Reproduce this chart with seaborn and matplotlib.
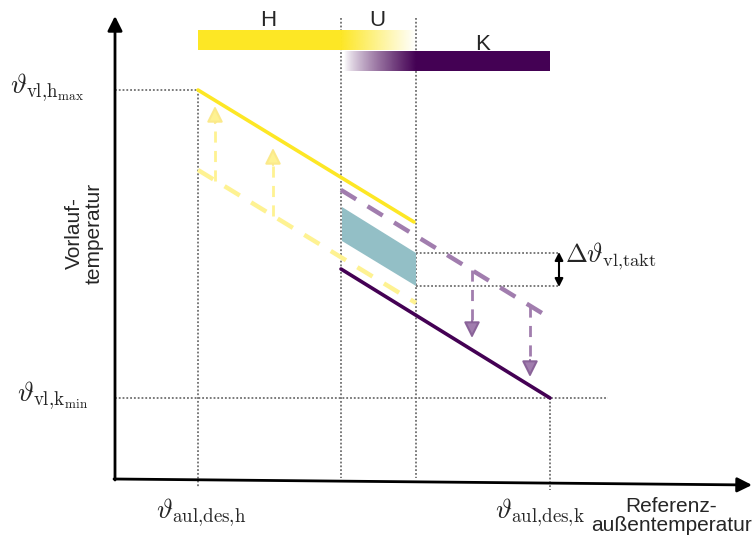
import numpy as np
import matplotlib
matplotlib.use("Agg")
import matplotlib.pyplot as plt
from matplotlib.colors import to_rgb
import seaborn as sns

# schematic in picture coordinates (x to the right, y downwards)
heat_x = [198, 414]
heat_y = [90, 222]
heat_base_x = [198, 416]
heat_base_y = [170, 303]
cool_x = [341, 550]
cool_y = [269, 398]
cool_base_x = [341, 550]
cool_base_y = [190, 318]

band_x = [342, 416, 416, 342]
band_y = [207, 253, 286, 241]

# shift arrows: (x, start y, tip y)
up_arrows = [(215, 181, 106), (273, 216, 148)]
down_arrows = [(472, 270, 338), (530, 306, 377)]

tick_y_labels = [r"$\vartheta_{\mathrm{vl{,}h_{max}}}$", r"$\vartheta_{\mathrm{vl{,}k_{min}}}$"]
tick_y_pos = [90, 398]
tick_y_left = [10, 17]
tick_x_labels = [r"$\vartheta_{\mathrm{aul{,}des{,}h}}$", r"$\vartheta_{\mathrm{aul{,}des{,}k}}$"]
tick_x_pos = [201, 540]

mode_labels = ["H", "U", "K"]

YEL = "#fde725"
PUR = "#440154"
YEL_L = "#fef292"
PUR_L = "#a17dae"
TEAL = "#93bfc6"
DOT = "#6f6f6f"

sns.set_style("white")
plt.rcParams["font.family"] = ["Liberation Sans", "DejaVu Sans"]
plt.rcParams["mathtext.fontset"] = "cm"

fig = plt.figure(figsize=(7.52, 5.38), dpi=100)
ax = fig.add_axes([0, 0, 1, 1])

# dotted guides
dot = dict(color=DOT, ls=(0, (1, 1.1)), lw=1.3, zorder=1)
ax.plot([198, 198], [90, 488], **dot)
ax.plot([341, 341], [18, 478], **dot)
ax.plot([416, 416], [18, 478], **dot)
ax.plot([550, 550], [398, 490], **dot)
ax.plot([115, 198], [90, 90], **dot)
ax.plot([115, 608], [398, 398], **dot)
ax.plot([416, 558], [253, 253], **dot)
ax.plot([416, 558], [286, 286], **dot)

# axes with arrows
arrow = dict(arrowstyle="-|>", color="black", lw=2, mutation_scale=22,
             shrinkA=0, shrinkB=0)
ax.annotate("", xy=(115, 16), xytext=(115, 480), arrowprops=arrow)
ax.annotate("", xy=(752, 485), xytext=(114, 479), arrowprops=arrow)

# band between switching lines
ax.fill(band_x, band_y, color=TEAL, lw=0, zorder=2)

# heating / cooling curves
sns.lineplot(x=heat_base_x, y=heat_base_y, color=YEL_L, lw=3.2,
             ax=ax, zorder=3).lines[-1].set_dashes((4, 3))
sns.lineplot(x=cool_base_x, y=cool_base_y, color=PUR_L, lw=3.2,
             ax=ax, zorder=3).lines[-1].set_dashes((4, 3))
sns.lineplot(x=heat_x, y=heat_y, color=YEL, lw=2.6, ax=ax, zorder=4)
sns.lineplot(x=cool_x, y=cool_y, color=PUR, lw=2.6, ax=ax, zorder=4)

# shift arrows
for x, y0, y1 in up_arrows:
    ax.plot([x, x], [y0, y1 + 12], color=YEL_L, lw=2, ls=(0, (4, 3)), zorder=3)
    ax.annotate("", xy=(x, y1), xytext=(x, y1 + 17),
                arrowprops=dict(arrowstyle="-|>", color=YEL_L, ec="#fbe98a",
                                lw=1.5, mutation_scale=24, shrinkA=0, shrinkB=0),
                zorder=3)
for x, y0, y1 in down_arrows:
    ax.plot([x, x], [y0, y1 - 12], color=PUR_L, lw=2, ls=(0, (4, 3)), zorder=3)
    ax.annotate("", xy=(x, y1), xytext=(x, y1 - 17),
                arrowprops=dict(arrowstyle="-|>", color=PUR_L, ec="#8a6399",
                                lw=1.5, mutation_scale=24, shrinkA=0, shrinkB=0),
                zorder=3)

# hysteresis arrow
ax.annotate("", xy=(559, 252), xytext=(559, 287),
            arrowprops=dict(arrowstyle="<|-|>", color="black", lw=1.5,
                            mutation_scale=12, shrinkA=0, shrinkB=0))
ax.text(565, 256, r"$\Delta\vartheta_{\mathrm{vl{,}takt}}$", fontsize=19,
        va="center", ha="left")

# mode bars
ax.fill_between([198, 341], 30, 50, color=YEL, lw=0)
ax.fill_between([416, 550], 51, 71, color=PUR, lw=0)
ramp = np.linspace(0, 1, 256)
yel_grad = np.zeros((1, 256, 4))
yel_grad[..., :3] = to_rgb(YEL)
yel_grad[..., 3] = 1 - ramp
ax.imshow(yel_grad, extent=(341, 416, 50, 30), aspect="auto", zorder=2)
pur_grad = np.zeros((1, 256, 4))
pur_grad[..., :3] = to_rgb(PUR)
pur_grad[..., 3] = ramp ** 0.8
ax.imshow(pur_grad, extent=(344, 416, 71, 51), aspect="auto", zorder=2)
for lab, x, y in zip(mode_labels, [268, 377, 483], [20, 20, 44]):
    ax.text(x, y, lab, fontsize=16, ha="center", va="center")

# tick labels
for lab, x, y in zip(tick_y_labels, tick_y_left, tick_y_pos):
    ax.text(x, y - 2, lab, fontsize=19.5, ha="left", va="center")
for lab, x in zip(tick_x_labels, tick_x_pos):
    ax.text(x, 513, lab, fontsize=19.5, ha="center", va="center")

ax.text(84, 233, "Vorlauf-\ntemperatur", rotation=90, fontsize=15,
        ha="center", va="center", linespacing=1.05)
ax.text(671, 516, "Referenz-\naußentemperatur", fontsize=15,
        ha="center", va="center", linespacing=1.05)

ax.set_xlim(0, 752)
ax.set_ylim(538, 0)
ax.axis("off")

fig.savefig("out.png", dpi=100)
